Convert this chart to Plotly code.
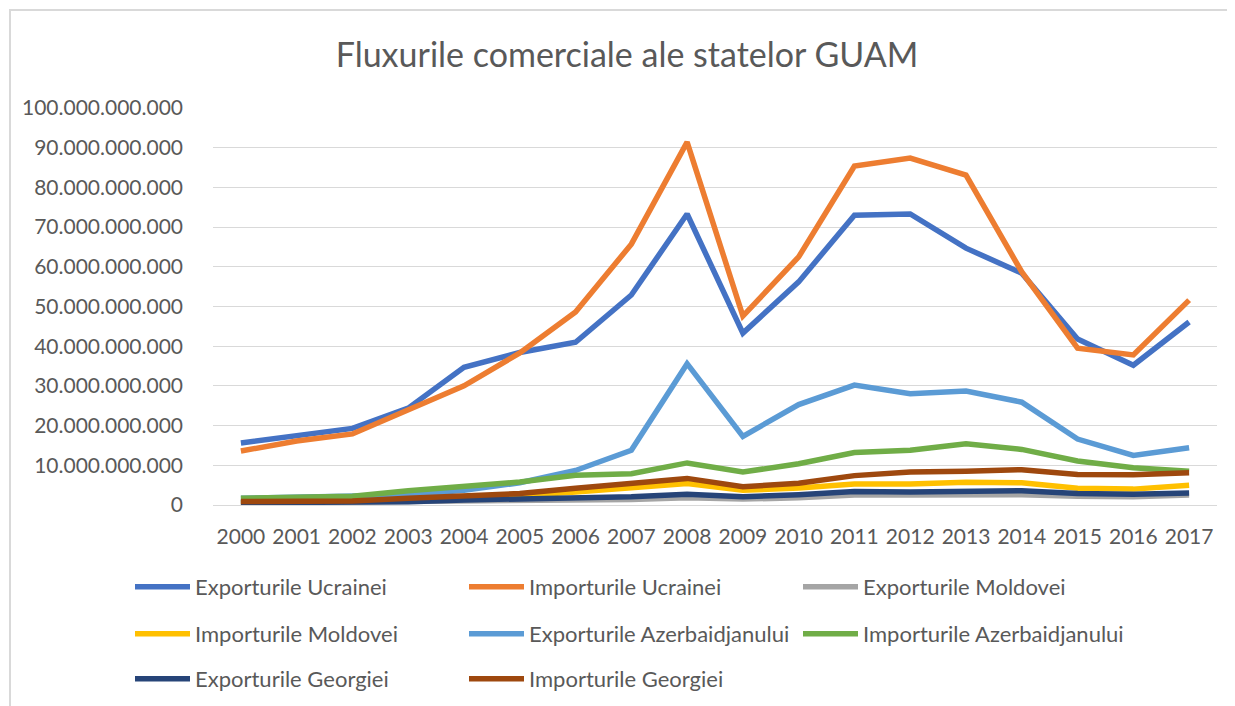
import plotly.graph_objects as go

years = [str(y) for y in range(2000, 2018)]
BN = 1e9
exp_ua = [15.6, 17.4, 19.3, 24.4, 34.7, 38.4, 41.0, 52.9, 73.3, 43.3, 56.2, 73.0, 73.3, 64.7, 58.4, 41.8, 35.2, 46.1]
imp_ua = [13.6, 16.1, 17.9, 23.9, 30.0, 38.3, 48.6, 65.7, 91.4, 47.6, 62.5, 85.4, 87.4, 83.1, 58.7, 39.5, 37.8, 51.6]
exp_md = [0.5, 0.6, 0.6, 0.8, 1.0, 1.1, 1.2, 1.4, 1.8, 1.5, 1.8, 2.5, 2.5, 2.6, 2.6, 2.2, 2.1, 2.5]
imp_md = [0.4, 0.9, 1.0, 1.4, 1.8, 2.3, 3.3, 4.4, 5.4, 3.7, 4.3, 5.3, 5.3, 5.7, 5.6, 4.2, 4.0, 5.0]
exp_az = [1.7, 2.0, 2.2, 2.5, 3.7, 5.6, 8.7, 13.8, 35.6, 17.3, 25.3, 30.2, 28.0, 28.7, 25.9, 16.6, 12.5, 14.4]
imp_az = [1.7, 2.0, 2.2, 3.6, 4.8, 5.8, 7.5, 7.9, 10.6, 8.3, 10.4, 13.2, 13.8, 15.4, 14.0, 11.1, 9.4, 8.5]
exp_ge = [0.6, 0.6, 0.7, 0.8, 1.25, 1.5, 1.8, 2.1, 2.7, 2.1, 2.6, 3.4, 3.3, 3.3, 3.6, 2.9, 2.7, 3.0]
imp_ge = [0.9, 1.0, 1.0, 1.7, 2.25, 2.9, 4.2, 5.6, 6.7, 4.6, 5.5, 7.4, 8.3, 8.5, 8.9, 7.7, 7.6, 8.1]

series = [
    ("Exporturile Ucrainei", exp_ua, "#4472C4", "legend"),
    ("Importurile Ucrainei", imp_ua, "#ED7D31", "legend"),
    ("Exporturile Moldovei", exp_md, "#A5A5A5", "legend"),
    ("Importurile Moldovei", imp_md, "#FFC000", "legend2"),
    ("Exporturile Azerbaidjanului", exp_az, "#5B9BD5", "legend2"),
    ("Importurile Azerbaidjanului", imp_az, "#70AD47", "legend2"),
    ("Exporturile Georgiei", exp_ge, "#264478", "legend3"),
    ("Importurile Georgiei", imp_ge, "#9E480E", "legend3"),
]

TXT = "#595959"
FONT = "Lato"

fig = go.Figure()
for name, vals, col, lg in series:
    fig.add_trace(go.Scatter(
        x=years, y=[v * BN for v in vals], name=name, mode="lines",
        line=dict(color=col, width=5.5), legend=lg,
    ))

# page has an 8px body margin; all positions below are in figure pixels
W, H = 1227, 698
L, R, T, B = 205, 18, 100, 201
pw, ph = W - L - R, H - T - B

def px(xp):
    return (xp - L) / pw

def py(yp):
    return (H - B - yp) / ph

leg_common = dict(orientation="h", xanchor="left", yanchor="middle",
                  xref="container", yref="container",
                  font=dict(family=FONT, size=22, color=TXT),
                  entrywidth=264, entrywidthmode="pixels", itemwidth=55,
                  bgcolor="rgba(0,0,0,0)", tracegroupgap=0)

fig.update_layout(
    width=W, height=H,
    margin=dict(l=L, r=R, t=T, b=B),
    paper_bgcolor="white", plot_bgcolor="white",
    separators=",.",
    font=dict(family=FONT, color=TXT, size=21),
    title=dict(text="Fluxurile comerciale ale statelor GUAM", x=619 / W, xanchor="center",
               y=1 - 47 / H, yanchor="middle",
               font=dict(family=FONT, size=34, color=TXT)),
    xaxis=dict(type="category", range=[-0.5, 17.5], showgrid=False, zeroline=False,
               showline=False, ticks="", tickfont=dict(family=FONT, size=21, color=TXT),
               ticklabelstandoff=17),
    yaxis=dict(range=[0, 100 * BN], dtick=10 * BN, tickformat=",.0f",
               showgrid=True, gridcolor="#D9D9D9", gridwidth=1.3, zeroline=True,
               zerolinecolor="#D9D9D9", zerolinewidth=1.3, showline=False, ticks="",
               tickfont=dict(family=FONT, size=21, color=TXT), ticklabelstandoff=29),
    legend=dict(x=122 / W, y=1 - 579 / H, **leg_common),
    legend2=dict(x=122 / W, y=1 - 626 / H, **leg_common),
    legend3=dict(x=122 / W, y=1 - 671 / H, **leg_common),
    shapes=[dict(type="path", xref="paper", yref="paper",
                 path=f"M {px(2)},{py(H)} L {px(2)},{py(2)} L {px(W)},{py(2)}",
                 line=dict(color="#D9D9D9", width=2), layer="below")],
)

fig.write_html("out.html")
